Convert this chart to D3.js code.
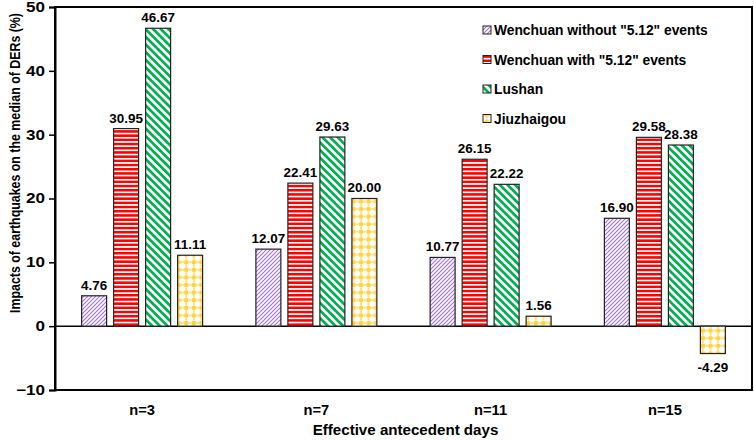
<!DOCTYPE html>
<html>
    <head>
        <meta charset="UTF-8"/>
        <style>
            body { margin: 0; background: #fff; }
            text { font-family: "Liberation Sans", Arial, sans-serif; font-weight: bold; fill: #000; }
        </style>
    </head>
    <body>
        <svg width="754" height="440"></svg>
        <script src="https://d3js.org/d3.v7.min.js" type="text/javascript"></script>
        <script>
            // data
            let categories = ["n=3", "n=7", "n=11", "n=15"];
            let seriesNames = ['Wenchuan without "5.12" events', 'Wenchuan with "5.12" events', "Lushan", "Jiuzhaigou"];
            let wenchuanWithout = [4.76, 12.07, 10.77, 16.90];
            let wenchuanWith = [30.95, 22.41, 26.15, 29.58];
            let lushan = [46.67, 29.63, 22.22, 28.38];
            let jiuzhaigou = [11.11, 20.00, 1.56, -4.29];
            let yTicks = [-10, 0, 10, 20, 30, 40, 50];

            let svg = d3.select("svg");
            let plotLeft = 55, plotRight = 752, plotTop = 7, plotBottom = 390;

            // the source picture is a bit wider than tall, so widen the text a little
            function stretchX(sel, sx) {
                sel.each(function() {
                    let t = d3.select(this);
                    let tx = +t.attr("x") || 0, ty = +t.attr("y") || 0;
                    t.attr("transform", "translate(" + tx + "," + ty + ") scale(" + sx + ",1) translate(" + (-tx) + "," + (-ty) + ")");
                });
            }

            // patterns for the four series
            let defs = svg.append("defs");
            let p1 = defs.append("pattern").attr("id", "pat0").attr("patternUnits", "userSpaceOnUse")
                .attr("width", 4).attr("height", 4);
            p1.append("rect").attr("width", 4).attr("height", 4).attr("fill", "#fff");
            p1.append("path").attr("d", "M-1,1 l2,-2 M0,4 l4,-4 M3,5 l2,-2")
                .attr("stroke", "#a070d8").attr("stroke-width", 1.1);

            let p2 = defs.append("pattern").attr("id", "pat1").attr("patternUnits", "userSpaceOnUse")
                .attr("width", 6).attr("height", 4.2);
            p2.append("rect").attr("width", 6).attr("height", 4.2).attr("fill", "#fff");
            p2.append("rect").attr("width", 6).attr("height", 2.5).attr("fill", "#ff0000");

            let p3 = defs.append("pattern").attr("id", "pat2").attr("patternUnits", "userSpaceOnUse")
                .attr("width", 5.4).attr("height", 8).attr("patternTransform", "rotate(-45)");
            p3.append("rect").attr("width", 5.4).attr("height", 8).attr("fill", "#fff");
            p3.append("rect").attr("width", 2.7).attr("height", 8).attr("fill", "#00b050");

            let p4 = defs.append("pattern").attr("id", "pat3").attr("patternUnits", "userSpaceOnUse")
                .attr("width", 7.6).attr("height", 7.6);
            p4.append("rect").attr("width", 7.6).attr("height", 7.6).attr("fill", "#fff");
            p4.append("circle").attr("cx", 3.8).attr("cy", 3.8).attr("r", 2.4).attr("fill", "#ffd23f");
            p4.append("circle").attr("cx", 0).attr("cy", 3.8).attr("r", 1.1).attr("fill", "#ffdf70");
            p4.append("circle").attr("cx", 7.6).attr("cy", 3.8).attr("r", 1.1).attr("fill", "#ffdf70");
            p4.append("circle").attr("cx", 3.8).attr("cy", 0).attr("r", 1.1).attr("fill", "#ffdf70");
            p4.append("circle").attr("cx", 3.8).attr("cy", 7.6).attr("r", 1.1).attr("fill", "#ffdf70");

            let x = d3.scaleBand().domain(categories).range([plotLeft, plotRight]);
            let y = d3.scaleLinear().domain([-10, 50]).range([plotBottom, plotTop]);
            let xs = d3.scaleBand().domain(d3.range(4)).range([-64, 64]).paddingInner(0.22).paddingOuter(0.11);

            let series = [wenchuanWithout, wenchuanWith, lushan, jiuzhaigou];

            // frame
            svg.append("rect").attr("x", plotLeft).attr("y", plotTop)
                .attr("width", plotRight - plotLeft).attr("height", plotBottom - plotTop)
                .attr("fill", "none").attr("stroke", "#000").attr("stroke-width", 2);

            // zero line
            svg.append("line").attr("x1", plotLeft).attr("x2", plotRight)
                .attr("y1", y(0)).attr("y2", y(0)).attr("stroke", "#000").attr("stroke-width", 1.5);

            // bars
            series.forEach(function(vals, si) {
                let g = svg.append("g");
                g.selectAll("rect").data(vals).enter().append("rect")
                    .attr("x", function(d, i) { return x(categories[i]) + x.bandwidth() / 2 + xs(si); })
                    .attr("y", function(d) { return y(Math.max(0, d)); })
                    .attr("width", xs.bandwidth())
                    .attr("height", function(d) { return Math.abs(y(d) - y(0)); })
                    .attr("fill", "url(#pat" + si + ")")
                    .attr("stroke", "#222").attr("stroke-width", 1.2);
                let labels = g.selectAll("text").data(vals).enter().append("text")
                    .attr("x", function(d, i) { return x(categories[i]) + x.bandwidth() / 2 + xs(si) + xs.bandwidth() / 2; })
                    .attr("y", function(d) { return d >= 0 ? y(d) - 6 : y(d) + 18; })
                    .attr("text-anchor", "middle")
                    .style("font-size", "12.2px")
                    .text(function(d) { return d.toFixed(2); });
                stretchX(labels, 1.1);
            });

            // y axis
            let yAxis = svg.append("g").attr("transform", "translate(" + plotLeft + ",0)")
                .call(d3.axisLeft(y).tickValues(yTicks).tickSize(6).tickPadding(4));
            yAxis.select(".domain").attr("stroke-width", 2);
            yAxis.selectAll(".tick line").attr("stroke-width", 1.5);
            let tickText = yAxis.selectAll("text").style("font-size", "14px").attr("fill", "#000");
            stretchX(tickText, 1.22);

            // x labels
            let xLabels = svg.append("g").selectAll("text").data(categories).enter().append("text")
                .attr("x", function(d) { return x(d) + x.bandwidth() / 2; })
                .attr("y", 415)
                .attr("text-anchor", "middle")
                .style("font-size", "14px")
                .text(function(d) { return d; });
            stretchX(xLabels, 1.05);

            let xTitle = svg.append("text").attr("x", (plotLeft + plotRight) / 2 + 2).attr("y", 435)
                .attr("text-anchor", "middle").style("font-size", "14px")
                .text("Effective antecedent days");
            stretchX(xTitle, 1.08);

            svg.append("text").attr("transform", "translate(20,163) rotate(-90) scale(1,1.25)")
                .attr("text-anchor", "middle").style("font-size", "12.4px")
                .text("Impacts of earthquakes on the median of DERs (%)");

            // legend
            let legend = svg.append("g").attr("transform", "translate(483,30)");
            seriesNames.forEach(function(name, i) {
                let row = legend.append("g").attr("transform", "translate(0," + (i * 29.5) + ")");
                row.append("rect").attr("x", 0).attr("y", -4).attr("width", 8).attr("height", 8)
                    .attr("fill", "url(#pat" + i + ")").attr("stroke", "#222").attr("stroke-width", 1);
                row.append("text").attr("x", 11).attr("y", 5).style("font-size", "13.8px").text(name);
            });
        </script>
    </body>
</html>
